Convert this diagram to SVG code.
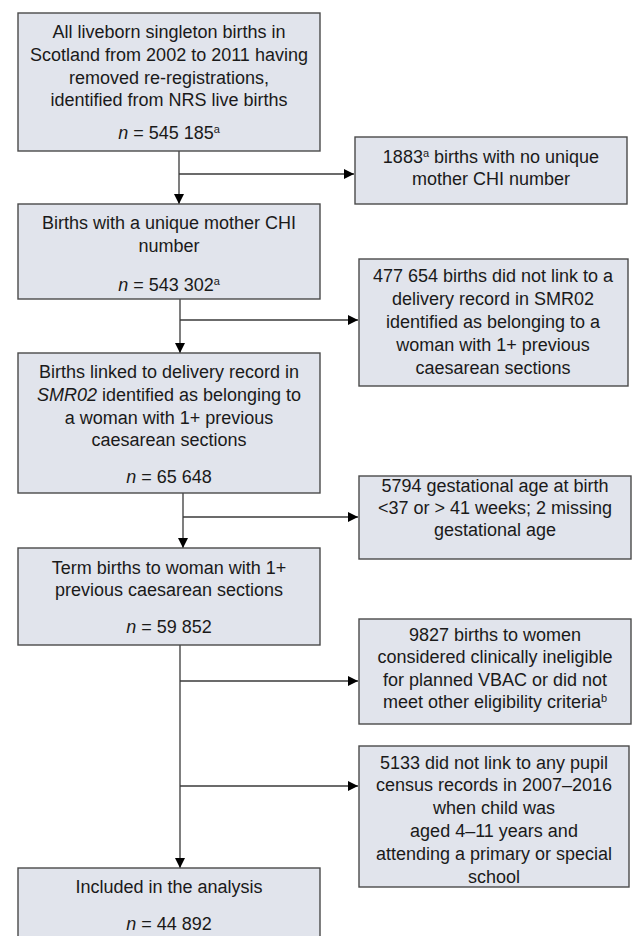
<svg xmlns="http://www.w3.org/2000/svg" width="635" height="936" viewBox="0 0 635 936">
<defs>
<style>
.box{fill:#e1e4ec;stroke:#4a4a4a;stroke-width:1.4}
.t{font-family:"Liberation Sans",Arial,sans-serif;font-size:18px;fill:#1a1a1a;text-anchor:middle}
.i{font-style:italic}
.sup{font-size:11px}
.ln{stroke:#3a3a3a;stroke-width:1.3;fill:none}
</style>
<marker id="ah" viewBox="0 0 10 10" refX="10" refY="5" markerWidth="10" markerHeight="10" markerUnits="userSpaceOnUse" orient="auto">
<path d="M0,0 L10,5 L0,10 Z" fill="#000"/>
</marker>
</defs>
<rect width="635" height="936" fill="#fff"/>
<g id="connectors">
<line class="ln" x1="179" y1="151" x2="179" y2="204" marker-end="url(#ah)"/>
<line class="ln" x1="179" y1="174" x2="354" y2="174" marker-end="url(#ah)"/>
<line class="ln" x1="180" y1="299" x2="180" y2="353" marker-end="url(#ah)"/>
<line class="ln" x1="180" y1="320" x2="358" y2="320" marker-end="url(#ah)"/>
<line class="ln" x1="183" y1="493" x2="183" y2="548" marker-end="url(#ah)"/>
<line class="ln" x1="183" y1="517" x2="358" y2="517" marker-end="url(#ah)"/>
<line class="ln" x1="180" y1="645" x2="180" y2="868" marker-end="url(#ah)"/>
<line class="ln" x1="180" y1="681" x2="358" y2="681" marker-end="url(#ah)"/>
<line class="ln" x1="180" y1="786" x2="358" y2="786" marker-end="url(#ah)"/>
</g>
<g id="n1">
<rect class="box" x="18" y="13" width="302" height="138"/>
<text class="t" x="169" y="38">All liveborn singleton births in</text>
<text class="t" x="169" y="61">Scotland from 2002 to 2011 having</text>
<text class="t" x="169" y="84">removed re-registrations,</text>
<text class="t" x="169" y="106">identified from NRS live births</text>
<text class="t" x="169" y="139"><tspan class="i">n</tspan> = 545 185<tspan class="sup" dy="-6">a</tspan></text>
</g>
<g id="n2">
<rect class="box" x="18" y="204" width="302" height="95"/>
<text class="t" x="169" y="229">Births with a unique mother CHI</text>
<text class="t" x="169" y="252">number</text>
<text class="t" x="169" y="291"><tspan class="i">n</tspan> = 543 302<tspan class="sup" dy="-6">a</tspan></text>
</g>
<g id="n3">
<rect class="box" x="18" y="353" width="302" height="140"/>
<text class="t" x="169" y="378">Births linked to delivery record in</text>
<text class="t" x="169" y="401"><tspan class="i">SMR02</tspan> identified as belonging to</text>
<text class="t" x="169" y="424">a woman with 1+ previous</text>
<text class="t" x="169" y="446">caesarean sections</text>
<text class="t" x="169" y="483"><tspan class="i">n</tspan> = 65 648</text>
</g>
<g id="n4">
<rect class="box" x="18" y="548" width="302" height="97"/>
<text class="t" x="169" y="574">Term births to woman with 1+</text>
<text class="t" x="169" y="596">previous caesarean sections</text>
<text class="t" x="169" y="633"><tspan class="i">n</tspan> = 59 852</text>
</g>
<g id="n5">
<rect class="box" x="18" y="868" width="302" height="80"/>
<text class="t" x="169" y="893">Included in the analysis</text>
<text class="t" x="169" y="930"><tspan class="i">n</tspan> = 44 892</text>
</g>
<g id="r1">
<rect class="box" x="355" y="137" width="272" height="67"/>
<text class="t" x="491" y="163">1883<tspan class="sup" dy="-6">a</tspan><tspan dy="6"> births with no unique</tspan></text>
<text class="t" x="491" y="185">mother CHI number</text>
</g>
<g id="r2">
<rect class="box" x="359" y="259" width="269" height="127"/>
<text class="t" x="493" y="282">477 654 births did not link to a</text>
<text class="t" x="493" y="305">delivery record in SMR02</text>
<text class="t" x="493" y="328">identified as belonging to a</text>
<text class="t" x="493" y="351">woman with 1+ previous</text>
<text class="t" x="493" y="374">caesarean sections</text>
</g>
<g id="r3">
<rect class="box" x="359" y="476" width="272" height="83"/>
<text class="t" x="495" y="492">5794 gestational age at birth</text>
<text class="t" x="495" y="514">&lt;37 or &gt; 41 weeks; 2 missing</text>
<text class="t" x="495" y="536">gestational age</text>
</g>
<g id="r4">
<rect class="box" x="359" y="619" width="272" height="105"/>
<text class="t" x="495" y="641">9827 births to women</text>
<text class="t" x="495" y="663">considered clinically ineligible</text>
<text class="t" x="495" y="686">for planned VBAC or did not</text>
<text class="t" x="495" y="708">meet other eligibility criteria<tspan class="sup" dy="-6">b</tspan></text>
</g>
<g id="r5">
<rect class="box" x="359" y="746" width="270" height="141"/>
<text class="t" x="494" y="769">5133 did not link to any pupil</text>
<text class="t" x="494" y="791">census records in 2007–2016</text>
<text class="t" x="494" y="814">when child was</text>
<text class="t" x="494" y="837">aged 4–11 years and</text>
<text class="t" x="494" y="860">attending a primary or special</text>
<text class="t" x="494" y="883">school</text>
</g>
</svg>
